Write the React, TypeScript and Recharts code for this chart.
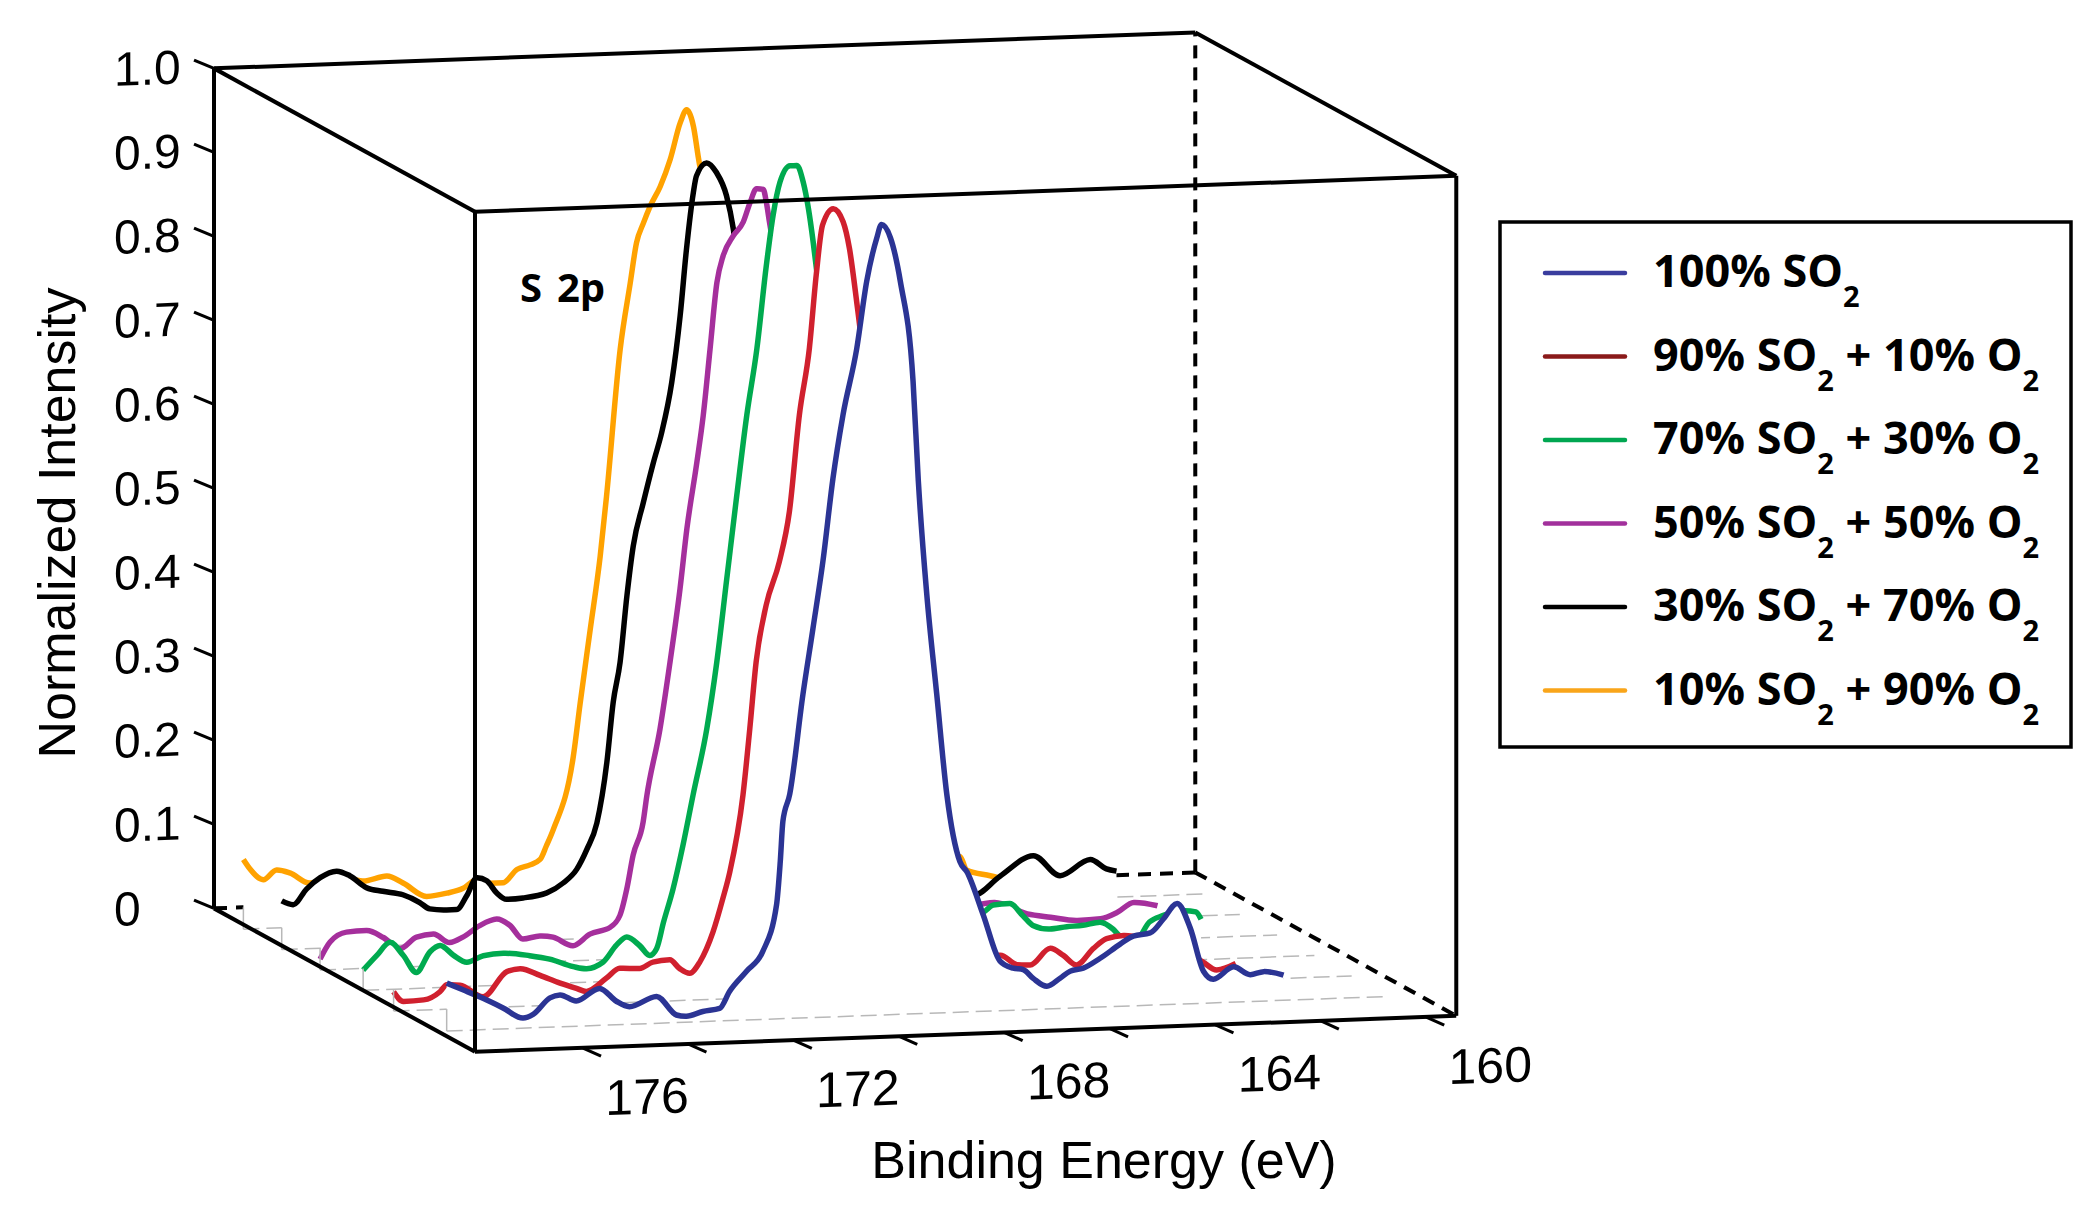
import React from 'react';
import { ComposedChart, Area, XAxis, YAxis, ReferenceLine } from 'recharts';

type Pt = [number, number]; // [binding energy (eV), normalized intensity]

// ---- data (front to back) ----
const so2_100: Pt[] = [
  [177.88, 0.057], [177.56, 0.048], [177.18, 0.037], [176.81, 0.025], [176.43, 0.012], [176.24, 0.016],
  [175.92, 0.035], [175.73, 0.038], [175.42, 0.030], [174.98, 0.044], [174.66, 0.028], [174.41, 0.021],
  [173.90, 0.032], [173.52, 0.009], [173.33, 0.007], [173.02, 0.012], [172.70, 0.015], [172.51, 0.035],
  [172.19, 0.058], [171.88, 0.081], [171.62, 0.136], [171.55, 0.187], [171.50, 0.235], [171.37, 0.267],
  [171.12, 0.385], [170.93, 0.463], [170.74, 0.543], [170.55, 0.641], [170.36, 0.716], [170.10, 0.794],
  [169.91, 0.874], [169.72, 0.925], [169.63, 0.941], [169.46, 0.925], [169.27, 0.872], [169.03, 0.753],
  [168.93, 0.634], [168.77, 0.499], [168.58, 0.379], [168.39, 0.260], [168.14, 0.179], [168.01, 0.167],
  [167.70, 0.115], [167.38, 0.059], [167.13, 0.050], [166.94, 0.048], [166.75, 0.037], [166.49, 0.027],
  [166.24, 0.036], [166.05, 0.044], [165.80, 0.047], [165.48, 0.058], [165.10, 0.074], [164.85, 0.083],
  [164.53, 0.086], [164.28, 0.102], [164.02, 0.120], [163.77, 0.090], [163.52, 0.038], [163.33, 0.028],
  [162.95, 0.042], [162.63, 0.032], [162.38, 0.035], [162.00, 0.030],
];
const so2_90: Pt[] = [
  [178.18, 0.023], [177.99, 0.011], [177.61, 0.012], [177.30, 0.021], [177.17, 0.029], [176.92, 0.028],
  [176.48, 0.013], [176.03, 0.042], [175.78, 0.045], [175.40, 0.036], [175.02, 0.026], [174.71, 0.019],
  [174.52, 0.015], [174.14, 0.030], [173.89, 0.041], [173.51, 0.040], [173.26, 0.047], [172.94, 0.049],
  [172.75, 0.038], [172.56, 0.032], [172.37, 0.045], [172.12, 0.080], [171.93, 0.120], [171.80, 0.151],
  [171.55, 0.242], [171.42, 0.321], [171.30, 0.400], [171.11, 0.467], [170.86, 0.518], [170.67, 0.577],
  [170.48, 0.692], [170.29, 0.771], [170.16, 0.858], [170.04, 0.917], [169.84, 0.936], [169.65, 0.920],
  [169.53, 0.888], [169.40, 0.828], [169.24, 0.740], [168.98, 0.500], [168.79, 0.380], [168.60, 0.260],
  [168.35, 0.180], [167.91, 0.110], [167.59, 0.060], [167.10, 0.040], [166.67, 0.040], [166.35, 0.028],
  [166.10, 0.027], [165.72, 0.046], [165.47, 0.037], [165.22, 0.025], [164.90, 0.044], [164.65, 0.055],
  [164.33, 0.058], [163.83, 0.052], [163.26, 0.042], [162.82, 0.023], [162.56, 0.013], [162.20, 0.020],
];
const so2_70: Pt[] = [
  [178.05, 0.024], [177.79, 0.041], [177.54, 0.056], [177.29, 0.040], [177.04, 0.019], [176.78, 0.043],
  [176.59, 0.050], [176.34, 0.038], [176.08, 0.029], [175.77, 0.036], [175.39, 0.038], [174.89, 0.034],
  [174.51, 0.029], [174.06, 0.019], [173.81, 0.016], [173.50, 0.023], [173.24, 0.043], [173.05, 0.052],
  [172.80, 0.041], [172.61, 0.029], [172.48, 0.037], [172.35, 0.068], [172.17, 0.107], [171.98, 0.159],
  [171.79, 0.218], [171.53, 0.296], [171.34, 0.375], [171.15, 0.474], [170.96, 0.573], [170.77, 0.668],
  [170.58, 0.746], [170.40, 0.845], [170.27, 0.905], [170.14, 0.944], [169.95, 0.963], [169.82, 0.963],
  [169.70, 0.943], [169.60, 0.911], [169.51, 0.871], [169.44, 0.835], [169.28, 0.740], [169.02, 0.500],
  [168.83, 0.380], [168.64, 0.260], [168.39, 0.180], [167.95, 0.110], [167.63, 0.070], [167.10, 0.060],
  [166.60, 0.062], [166.28, 0.066], [166.09, 0.074], [165.78, 0.075], [165.53, 0.060], [165.34, 0.048],
  [165.02, 0.043], [164.70, 0.045], [164.39, 0.046], [164.07, 0.049], [163.82, 0.040], [163.70, 0.032],
  [163.40, 0.025], [163.13, 0.047], [162.88, 0.054], [162.50, 0.059], [162.25, 0.057], [162.15, 0.048],
];
const so2_50: Pt[] = [
  [178.16, 0.013], [177.97, 0.033], [177.66, 0.044], [177.28, 0.045], [176.96, 0.036], [176.64, 0.022],
  [176.33, 0.035], [176.01, 0.038], [175.70, 0.027], [175.45, 0.033], [175.13, 0.046], [174.81, 0.053],
  [174.56, 0.045], [174.31, 0.028], [173.99, 0.031], [173.74, 0.029], [173.36, 0.018], [173.04, 0.031],
  [172.66, 0.038], [172.47, 0.052], [172.34, 0.083], [172.22, 0.123], [172.03, 0.162], [171.96, 0.193],
  [171.71, 0.272], [171.52, 0.351], [171.33, 0.438], [171.20, 0.509], [171.01, 0.588], [170.89, 0.643],
  [170.76, 0.722], [170.63, 0.801], [170.51, 0.833], [170.32, 0.856], [170.13, 0.872], [170.00, 0.895],
  [169.88, 0.911], [169.75, 0.910], [169.69, 0.894], [169.63, 0.870], [169.44, 0.800], [169.20, 0.650],
  [168.94, 0.450], [168.75, 0.340], [168.56, 0.240], [168.31, 0.170], [167.87, 0.100], [167.55, 0.060],
  [167.00, 0.045], [166.20, 0.045], [165.37, 0.051], [164.74, 0.036], [164.30, 0.031], [163.79, 0.026],
  [163.35, 0.027], [163.03, 0.034], [162.72, 0.045], [162.27, 0.040],
];
const so2_30: Pt[] = [
  [178.18, 0.058], [177.96, 0.053], [177.71, 0.071], [177.45, 0.084], [177.14, 0.091], [176.89, 0.085],
  [176.57, 0.070], [176.26, 0.065], [175.88, 0.060], [175.56, 0.050], [175.37, 0.042], [175.05, 0.040],
  [174.86, 0.040], [174.67, 0.056], [174.48, 0.077], [174.29, 0.073], [174.10, 0.058], [173.91, 0.050],
  [173.60, 0.051], [173.15, 0.056], [172.84, 0.067], [172.58, 0.083], [172.39, 0.106], [172.20, 0.137],
  [172.01, 0.209], [171.89, 0.280], [171.76, 0.327], [171.63, 0.406], [171.51, 0.465], [171.32, 0.516],
  [171.13, 0.563], [170.97, 0.599], [170.78, 0.658], [170.62, 0.737], [170.50, 0.816], [170.37, 0.883],
  [170.31, 0.903], [170.12, 0.918], [169.93, 0.906], [169.74, 0.878], [169.61, 0.838], [169.40, 0.720],
  [169.20, 0.520], [169.05, 0.400], [168.88, 0.270], [168.63, 0.180], [168.19, 0.110], [167.87, 0.070],
  [167.20, 0.050], [166.30, 0.045], [165.50, 0.040], [165.06, 0.034], [164.55, 0.056], [163.92, 0.079],
  [163.41, 0.054], [162.84, 0.072], [162.53, 0.060], [162.34, 0.057],
];
const so2_10: Pt[] = [
  [178.20, 0.083], [178.07, 0.071], [177.82, 0.058], [177.57, 0.069], [177.32, 0.065], [176.94, 0.052],
  [176.43, 0.060], [175.93, 0.052], [175.48, 0.057], [175.17, 0.048], [174.72, 0.031], [174.34, 0.034],
  [174.03, 0.039], [173.77, 0.049], [173.52, 0.044], [173.27, 0.044], [173.01, 0.059], [172.76, 0.064],
  [172.57, 0.070], [172.45, 0.086], [172.32, 0.105], [171.94, 0.191], [171.81, 0.254], [171.62, 0.341],
  [171.43, 0.428], [171.31, 0.499], [171.05, 0.674], [170.86, 0.752], [170.74, 0.800], [170.61, 0.823],
  [170.48, 0.843], [170.29, 0.866], [170.10, 0.898], [169.91, 0.941], [169.79, 0.956], [169.66, 0.936],
  [169.57, 0.900], [169.19, 0.750], [168.93, 0.500], [168.74, 0.380], [168.55, 0.260], [168.30, 0.180],
  [167.86, 0.110], [167.54, 0.070], [167.00, 0.060], [166.20, 0.060], [165.40, 0.058], [164.60, 0.055],
  [164.48, 0.039], [164.03, 0.031], [163.50, 0.022], [162.90, 0.016], [162.30, 0.020],
];

const seriesData = [so2_100, so2_90, so2_70, so2_50, so2_30, so2_10];
const seriesNames = [
  '100% SO_2', '90% SO_2 + 10% O_2', '70% SO_2 + 30% O_2',
  '50% SO_2 + 50% O_2', '30% SO_2 + 70% O_2', '10% SO_2 + 90% O_2',
];
const seriesColors = ['#2B3494', '#D0202E', '#00AA4F', '#A52F9C', '#000000', '#FFA200'];
const legendColors = ['#3A3D9E', '#8A1A1A', '#00A651', '#A2309C', '#000000', '#F9A51A'];

const energyTicks = [176, 174, 172, 170, 168, 166, 164, 162, 160];
const energyLabels = [176, 172, 168, 164, 160];
const intensityTicks = [0, 0.1, 0.2, 0.3, 0.4, 0.5, 0.6, 0.7, 0.8, 0.9, 1.0];
const FLOOR_END = 160;

// ---- layout of the oblique box ----
const W = 2098;
const H = 1214;
const PLOT = { left: 214, right: 1460, top: 30, bottom: 1052 };
const EV_PX = 52.7;
const UNIT_PX = 840;
const E_LEFT = 178.05;
const E_RIGHT = 159.43;
const BACK_X = 214;
const BACK_Y = 898.8;
const DEPTH_X = 261;
const DEPTH_Y = 153;
const N = seriesData.length;
const depthOf = (i: number) => (N - i) / (N + 1);

function xDomain(depth: number): [number, number] {
  const x0 = BACK_X + depth * DEPTH_X;
  const lo = E_LEFT - (PLOT.right - x0) / EV_PX;
  return [lo, lo + (PLOT.right - PLOT.left) / EV_PX];
}
function yDomain(depth: number): [number, number] {
  const z0 = BACK_Y + depth * DEPTH_Y;
  const lo = (z0 - PLOT.bottom) / UNIT_PX;
  return [lo, lo + (PLOT.bottom - PLOT.top) / UNIT_PX];
}
// point of the plane at `depth`, written in back-plane axis units
const onBack = (e: number, v: number, depth: number) => ({
  x: e - (depth * DEPTH_X) / EV_PX,
  y: v - (depth * DEPTH_Y) / UNIT_PX,
});

const ARIAL = '"Liberation Sans", Arial, sans-serif';
const BOLD = '"Open Sans", "Noto Sans", sans-serif';

// the front x axis sits on the plot bottom, the back y axis on the plot left
const EnergyTick = (props: any) => {
  const { x, payload } = props;
  const y = PLOT.bottom;
  return (
    <g>
      <line x1={x} y1={y} x2={x + 18} y2={y + 8.7} stroke="#000" strokeWidth={3} />
      {energyLabels.includes(payload.value) && (
        <text x={x + 64} y={y + 68} textAnchor="middle" fontSize={50} fontFamily={ARIAL} fill="#000">
          {payload.value}
        </text>
      )}
    </g>
  );
};

const IntensityTick = (props: any) => {
  const { y, payload } = props;
  const x = PLOT.left;
  const v = payload.value;
  return (
    <g>
      <line x1={x} y1={y} x2={x - 20} y2={y - 9} stroke="#000" strokeWidth={3} />
      <text x={x - 100} y={y + 14} fontSize={48} fontFamily={ARIAL} fill="#000">
        {v === 0 ? '0' : v.toFixed(1)}
      </text>
    </g>
  );
};

type Seg = { a: { x: number; y: number }; b: { x: number; y: number }; dash?: boolean };

const backEdges: Seg[] = [
  { a: onBack(E_LEFT, 1, 0), b: onBack(E_RIGHT, 1, 0) },
  { a: onBack(E_LEFT, 0, 0), b: onBack(E_LEFT, 1, 0) },
  { a: onBack(E_RIGHT, 0, 0), b: onBack(E_RIGHT, 1, 0), dash: true },
  { a: onBack(E_LEFT, 1, 0), b: onBack(E_LEFT, 1, 1) },
  { a: onBack(E_RIGHT, 1, 0), b: onBack(E_RIGHT, 1, 1) },
  { a: onBack(E_LEFT, 0, 0), b: onBack(E_LEFT, 0, 1) },
  { a: onBack(E_RIGHT, 0, 0), b: onBack(E_RIGHT, 0, 1), dash: true },
];
const frontEdges: Seg[] = [
  { a: onBack(E_LEFT, 0, 1), b: onBack(E_LEFT, 1, 1) },
  { a: onBack(E_LEFT, 1, 1), b: onBack(E_RIGHT, 1, 1) },
  { a: onBack(E_RIGHT, 1, 1), b: onBack(E_RIGHT, 0, 1) },
  { a: onBack(E_LEFT, 0, 1), b: onBack(E_RIGHT, 0, 1) },
];

const edgeLines = (segs: Seg[], tag: string) =>
  segs.map((s, k) => (
    <ReferenceLine
      key={`${tag}${k}`}
      xAxisId="xb"
      yAxisId="yb"
      segment={[s.a, s.b]}
      stroke="#000"
      strokeWidth={4}
      strokeDasharray={s.dash ? '13 9' : undefined}
      ifOverflow="visible"
    />
  ));

const LegendLabel = ({ text, x, y }: { text: string; x: number; y: number }) => {
  const parts = text.split(/_(\d)/);
  return (
    <text x={x} y={y} fontSize={45} fontWeight={700} fontFamily={BOLD} fill="#000">
      {parts.map((p, k) =>
        k % 2 === 1 ? (
          <tspan key={k} fontSize={29} dy={20}>{p}</tspan>
        ) : (
          <tspan key={k} dy={k === 0 ? 0 : -20}>{p}</tspan>
        )
      )}
    </text>
  );
};

export default function App() {
  const order = seriesData.map((_, i) => i).reverse(); // back to front
  return (
    <div style={{ position: 'absolute', left: 0, top: 0, width: W, height: H, background: '#fff', overflow: 'hidden' }}>
      <div
        style={{
          position: 'absolute', left: 0, top: 0, width: W, height: H,
          transform: 'skewY(-2.1deg)', transformOrigin: '475px 0px',
        }}
      >
        <ComposedChart width={W} height={H} margin={{ top: PLOT.top, right: W - PLOT.right, bottom: H - PLOT.bottom - 100, left: 0 }}>
          <XAxis
            xAxisId="xf" dataKey="e" type="number" domain={xDomain(1)} reversed allowDataOverflow
            ticks={energyTicks} interval={0} tick={<EnergyTick />} tickSize={0} tickMargin={0}
            tickLine={false} axisLine={false} height={100}
          />
          <YAxis yAxisId="yf" type="number" domain={yDomain(1)} allowDataOverflow hide />
          <XAxis xAxisId="xb" dataKey="e" type="number" domain={xDomain(0)} reversed allowDataOverflow hide />
          <YAxis
            yAxisId="yb" type="number" domain={yDomain(0)} allowDataOverflow width={PLOT.left}
            ticks={intensityTicks} interval={0} tick={<IntensityTick />} tickSize={0} tickMargin={0}
            tickLine={false} axisLine={false}
          />
          {seriesData.map((_, i) => (
            <XAxis key={`x${i}`} xAxisId={`x${i}`} dataKey="e" type="number" domain={xDomain(depthOf(i))} reversed allowDataOverflow hide />
          ))}
          {seriesData.map((_, i) => (
            <YAxis key={`y${i}`} yAxisId={`y${i}`} type="number" domain={yDomain(depthOf(i))} allowDataOverflow hide />
          ))}

          {edgeLines(backEdges, 'b')}

          {/* back bottom edge: hidden wherever a spectrum passes in front of it */}
          <Area
            data={[{ e: E_LEFT, v: 0 }, { e: E_RIGHT, v: 0 }]} dataKey="v" xAxisId="xb" yAxisId="yb"
            type="linear" stroke="#000" strokeWidth={4} strokeDasharray="13 9" fill="none"
            dot={false} activeDot={false} isAnimationActive={false}
          />

          {order.map((i) => {
            const rows = seriesData[i].map(([e, v]) => ({ e, v }));
            const e0 = rows[0].e;
            const step = DEPTH_Y / (N + 1) / UNIT_PX;
            return [
              <Area
                key={`s${i}`} data={rows} dataKey="v" xAxisId={`x${i}`} yAxisId={`y${i}`}
                type="monotone" stroke={seriesColors[i]} strokeWidth={5.5} fill="#ffffff" fillOpacity={1}
                baseValue={0} dot={false} activeDot={false} isAnimationActive={false}
              />,
              <Area
                key={`st${i}`} data={[{ e: e0, v: step }, { e: e0, v: 0 }]} dataKey="v"
                xAxisId={`x${i}`} yAxisId={`y${i}`} type="linear" stroke="#b8b8b8" strokeWidth={1.5}
                fill="none" dot={false} activeDot={false} isAnimationActive={false}
              />,
              <Area
                key={`fl${i}`} data={[{ e: e0, v: 0 }, { e: FLOOR_END, v: 0 }]} dataKey="v"
                xAxisId={`x${i}`} yAxisId={`y${i}`} type="linear" stroke="#b8b8b8" strokeWidth={1.5}
                strokeDasharray="16 7" fill="none" dot={false} activeDot={false} isAnimationActive={false}
              />,
            ];
          })}

          {edgeLines(frontEdges, 'f')}
        </ComposedChart>
      </div>

      <svg width={W} height={H} style={{ position: 'absolute', left: 0, top: 0, pointerEvents: 'none' }}>
        <text transform="translate(75,523) rotate(-90)" textAnchor="middle" fontSize={52} fontFamily={ARIAL} fill="#000">
          Normalized Intensity
        </text>
        <text x={1104} y={1178} textAnchor="middle" fontSize={52} fontFamily={ARIAL} fill="#000">
          Binding Energy (eV)
        </text>
        <text y={302} fontSize={40} fontWeight={700} fontFamily={BOLD} fill="#000">
          <tspan x={520}>S</tspan>
          <tspan x={557}>2p</tspan>
        </text>
        <rect x={1500} y={222} width={571} height={525} fill="none" stroke="#000" strokeWidth={3.5} />
        {seriesNames.map((name, i) => {
          const y = 287 + i * 83.5;
          return (
            <g key={name}>
              <line x1={1545} y1={y - 14} x2={1625} y2={y - 14} stroke={legendColors[i]} strokeWidth={4.5} strokeLinecap="round" />
              <LegendLabel text={name} x={1653} y={y} />
            </g>
          );
        })}
      </svg>
    </div>
  );
}
